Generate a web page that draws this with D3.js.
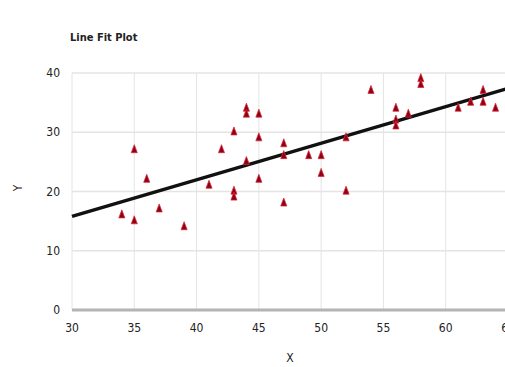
<!DOCTYPE html>
<html>
<head>
<meta charset="utf-8">
<script src="https://cdn.jsdelivr.net/npm/d3@7"></script>
<style>
  body { margin: 0; background: #fff; }
  text { font-family: "DejaVu Sans Condensed", "Liberation Sans Narrow", sans-serif; font-stretch: condensed; fill: #222; }
</style>
</head>
<body>
<svg id="chart"></svg>
<script>
const width = 505, height = 367;

// observed points
const xValues = [35, 34, 35, 36, 37, 39, 41, 42, 43, 43, 43, 44, 44, 44, 45, 45, 45, 47, 47, 47,
                 49, 50, 50, 52, 52, 54, 56, 56, 56, 57, 58, 58, 61, 62, 63, 63, 64];
const yValues = [27, 16, 15, 22, 17, 14, 21, 27, 30, 20, 19, 34, 33, 25, 33, 29, 22, 28, 26, 18,
                 26, 26, 23, 29, 20, 37, 34, 32, 31, 33, 39, 38, 34, 35, 37, 35, 34];

// predicted (fitted) line
const fitX = [30, 65];
const fitY = [15.8, 37.4];

const xTicks = [30, 35, 40, 45, 50, 55, 60, 65];
const yTicks = [0, 10, 20, 30, 40];

const svg = d3.select("#chart").attr("width", width).attr("height", height);

const x = d3.scaleLinear().domain([30, 65]).range([72, 508]);
const y = d3.scaleLinear().domain([0, 40]).range([310, 73]);

// grid
svg.append("g")
    .selectAll("line")
    .data(xTicks)
    .join("line")
    .attr("x1", d => x(d)).attr("x2", d => x(d))
    .attr("y1", y(40)).attr("y2", y(0))
    .attr("stroke", "#e4e4e4")
    .attr("stroke-width", 1);

svg.append("g")
    .selectAll("line")
    .data(yTicks.filter(d => d > 0))
    .join("line")
    .attr("x1", x(30)).attr("x2", width)
    .attr("y1", d => y(d)).attr("y2", d => y(d))
    .attr("stroke", "#e4e4e4")
    .attr("stroke-width", 1.5);

// bottom axis line
svg.append("line")
    .attr("x1", x(30)).attr("x2", width)
    .attr("y1", y(0)).attr("y2", y(0))
    .attr("stroke", "#b4b4b4")
    .attr("stroke-width", 3);

// tick labels
svg.append("g")
    .selectAll("text")
    .data(yTicks)
    .join("text")
    .attr("x", 60)
    .attr("y", d => y(d) + 4)
    .attr("text-anchor", "end")
    .attr("font-size", 12)
    .text(d => d);

svg.append("g")
    .selectAll("text")
    .data(xTicks)
    .join("text")
    .attr("x", d => x(d))
    .attr("y", 332)
    .attr("text-anchor", "middle")
    .attr("font-size", 12)
    .text(d => d);

// fitted line
svg.append("path")
    .datum(fitX.map((d, i) => [d, fitY[i]]))
    .attr("fill", "none")
    .attr("stroke", "#111")
    .attr("stroke-width", 3.5)
    .attr("d", d3.line().x(d => x(d[0])).y(d => y(d[1])));

// points
const tri = d3.symbol().type(d3.symbolTriangle).size(22);
svg.append("g")
    .selectAll("path")
    .data(xValues.map((d, i) => [d, yValues[i]]))
    .join("path")
    .attr("transform", d => `translate(${x(d[0])},${y(d[1])}) scale(0.85,1.3)`)
    .attr("d", tri)
    .attr("fill", "#8e0014")
    .attr("stroke", "#d8283a")
    .attr("stroke-width", 0.7);

// titles
svg.append("text")
    .attr("x", 70).attr("y", 41)
    .attr("font-size", 11)
    .attr("font-weight", "bold")
    .text("Line Fit Plot");

svg.append("text")
    .attr("transform", "translate(22,188) rotate(-90)")
    .attr("text-anchor", "middle")
    .attr("font-size", 12)
    .text("Y");

svg.append("text")
    .attr("x", 290).attr("y", 362)
    .attr("text-anchor", "middle")
    .attr("font-size", 12)
    .text("X");
</script>
</body>
</html>
